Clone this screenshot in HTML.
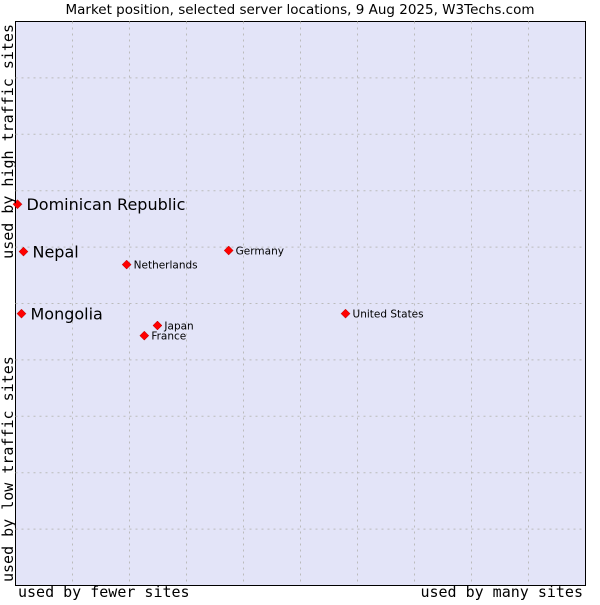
<!DOCTYPE html>
<html><head><meta charset="utf-8"><style>
body{margin:0;background:#fff;width:600px;height:600px;overflow:hidden}
svg{font-family:"DejaVu Sans","Liberation Sans",sans-serif}
</style></head><body>
<svg id="chart" width="600" height="600">
<text x="300" y="14" text-anchor="middle" font-size="13.5">Market position, selected server locations, 9 Aug 2025, W3Techs.com</text>
<rect x="15.5" y="21.5" width="570" height="564" fill="#e3e4f8" stroke="#000"/>
<g id="grid"></g>
<g id="points"></g>
<text x="18" y="597" font-family="DejaVu Sans Mono,Liberation Mono,monospace" font-size="15">used by fewer sites</text>
<text x="583" y="597" text-anchor="end" font-family="DejaVu Sans Mono,Liberation Mono,monospace" font-size="15">used by many sites</text>
<text transform="translate(13,582) rotate(-90)" font-family="DejaVu Sans Mono,Liberation Mono,monospace" font-size="15">used by low traffic sites</text>
<text transform="translate(13,24) rotate(-90)" text-anchor="end" font-family="DejaVu Sans Mono,Liberation Mono,monospace" font-size="15">used by high traffic sites</text>
</svg>
<script>
const names=["Dominican Republic","Nepal","Mongolia","Netherlands","Germany","Japan","France","United States"];
const xVals=[0.35,1.4,1.05,19.5,37.4,24.9,22.6,57.9];
const yVals=[67.6,59.2,48.2,56.9,59.4,46.1,44.3,48.2];
const big=[true,true,true,false,false,false,false,false];
const L=15.5,T=21.5,W=570,H=564;
const sx=v=>L+v/100*W, sy=v=>T+H-v/100*H;
const NS="http://www.w3.org/2000/svg";
const g=document.getElementById('grid');
for(let i=1;i<10;i++){
 const x=L+i*57;
 const l=document.createElementNS(NS,'line');
 
 
 l.setAttribute('x1',x);l.setAttribute('x2',x);l.setAttribute('y1',T);l.setAttribute('y2',T+H);
 l.setAttribute('stroke','#bbb');l.setAttribute('stroke-dasharray','2,4');
 g.appendChild(l);
 const y=T+i*56.4;
 const m=document.createElementNS(NS,'line');
 
 
 m.setAttribute('x1',L);m.setAttribute('x2',L+W);m.setAttribute('y1',y);m.setAttribute('y2',y);
 m.setAttribute('stroke','#bbb');m.setAttribute('stroke-dasharray','2,4');
 g.appendChild(m);
}
const p=document.getElementById('points');
names.forEach((n,i)=>{
 const x=sx(xVals[i]),y=sy(yVals[i]);
 const d=document.createElementNS(NS,'path');
 
 
 d.setAttribute('d',`M${x} ${y-4.5}L${x+4.5} ${y}L${x} ${y+4.5}L${x-4.5} ${y}Z`);
 d.setAttribute('fill','#f00');d.setAttribute('stroke','#a00');d.setAttribute('stroke-width','0.5');
 p.appendChild(d);
 const t=document.createElementNS(NS,'text');
 
 
 t.setAttribute('x',x+(big[i]?9:7));t.setAttribute('y',y+(big[i]?6:4));
 t.setAttribute('font-size',big[i]?16:10.5);
 t.textContent=n;
 p.appendChild(t);
});
</script>
</body></html>
